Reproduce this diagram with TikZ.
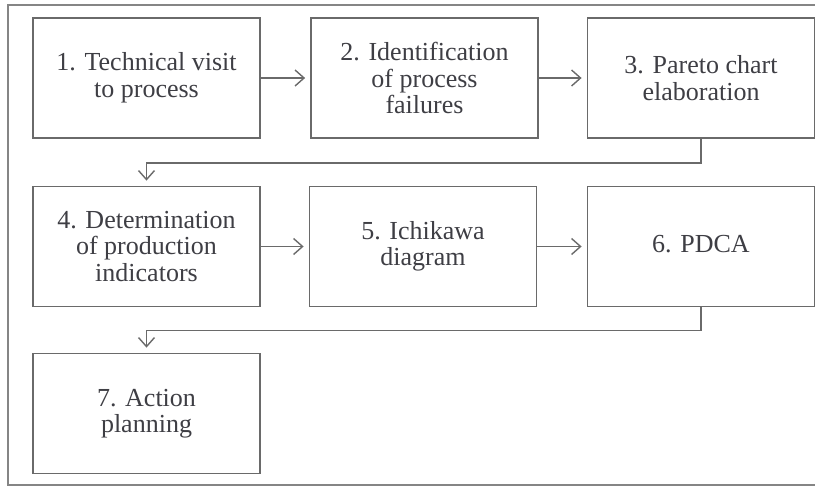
\documentclass[tikz,border=0pt]{standalone}
\usepackage{fontspec}
\setmainfont{Liberation Serif}
\usetikzlibrary{arrows.meta}
\definecolor{linec}{HTML}{6A6A6A}
\definecolor{textc}{HTML}{3E3E44}
\definecolor{framec}{HTML}{858585}
\begin{document}
\begin{tikzpicture}[x=1pt,y=-1pt,
  stepbox/.style={draw=linec, line width=1.8pt, minimum width=227pt, minimum height=120pt,
    inner sep=0pt, align=center, text=textc,
    font=\fontsize{26}{26.5}\selectfont},
  arr/.style={draw=linec, line width=1.6pt, -{Straight Barb[length=9pt,width=16pt,line width=1.4pt]}, shorten >=5pt}
]
\useasboundingbox (0,0) rectangle (815,486);
\draw[framec, line width=1.2pt] (816,5) -- (8,5) -- (8,485) -- (816,485);

\node[stepbox] (b1) at (146.5,78) {1. Technical visit\\to process};
\node[stepbox] (b2) at (424.5,78) {2. Identification\\of process\\failures};
\node[stepbox] (b3) at (701,78) {3. Pareto chart\\elaboration};
\node[stepbox] (b4) at (146.5,246.5) {4. Determination\\of production\\indicators};
\node[stepbox] (b5) at (423,246.5) {5. Ichikawa\\diagram};
\node[stepbox] (b6) at (701,246.5) {\raisebox{6pt}{6. PDCA}};
\node[stepbox] (b7) at (146.5,413.5) {7. Action\\planning};

\draw[arr] (b1.east) -- (b2.west);
\draw[arr] (b2.east) -- (b3.west);
\draw[arr] (b3.south) -- ++(0,24) -| (b4.north);
\draw[arr] (b4.east) -- (b5.west);
\draw[arr] (b5.east) -- (b6.west);
\draw[arr] (b6.south) -- ++(0,23) -| (b7.north);
\end{tikzpicture}
\end{document}
